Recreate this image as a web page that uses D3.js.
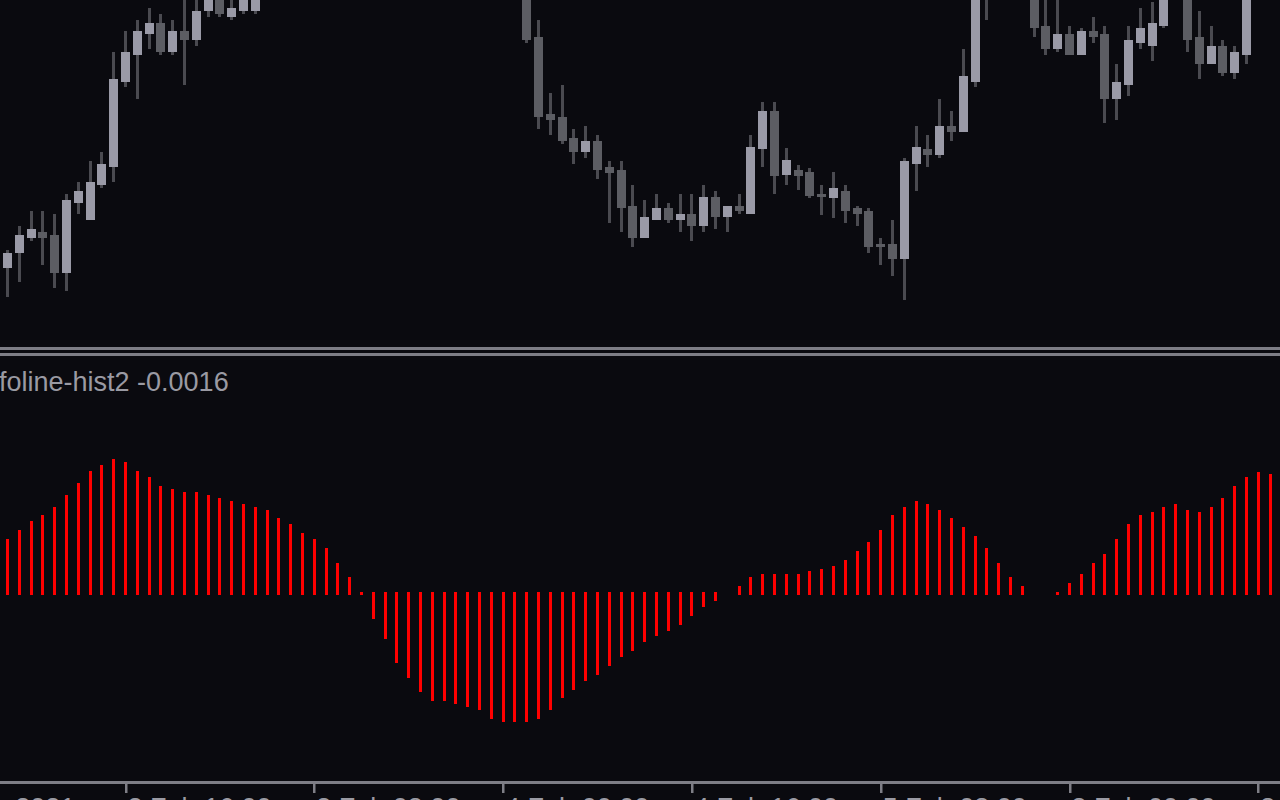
<!DOCTYPE html>
<html>
<head>
<meta charset="utf-8">
<script src="https://cdn.jsdelivr.net/npm/d3@7"></script>
<style>
  html, body { margin: 0; padding: 0; background: #0a0a0f; overflow: hidden; }
  svg { display: block; }
</style>
</head>
<body>
<svg id="chart" width="1280" height="800"></svg>
<script>
// ---------------- DATA ----------------
const openPrices = [
  1.21232, 1.21247, 1.21262, 1.21268, 1.21265, 1.21227, 1.21297, 1.21280, 1.21315, 1.21333,
  1.21418, 1.21445, 1.21466, 1.21477, 1.21448, 1.21469, 1.21460, 1.21489, 1.21506, 1.21483,
  1.21489, 1.21489, 1.21506, 1.21525, 1.21540, 1.21562, 1.21555, 1.21582, 1.21578, 1.21566,
  1.21552, 1.21540, 1.21530, 1.21518, 1.21535, 1.21525, 1.21515, 1.21522, 1.21518, 1.21512,
  1.21520, 1.21514, 1.21510, 1.21518, 1.21520, 1.21463, 1.21386, 1.21383, 1.21362, 1.21348,
  1.21359, 1.21333, 1.21330, 1.21294, 1.21262, 1.21280, 1.21292, 1.21280, 1.21286, 1.21274,
  1.21303, 1.21283, 1.21294, 1.21286, 1.21351, 1.21389, 1.21325, 1.21330, 1.21328, 1.21306,
  1.21302, 1.21309, 1.21292, 1.21289, 1.21256, 1.21256, 1.21241, 1.21336, 1.21351, 1.21345,
  1.21374, 1.21368, 1.21418, 1.21530, 1.21550, 1.21570, 1.21555, 1.21520, 1.21474, 1.21451,
  1.21466, 1.21445, 1.21469, 1.21466, 1.21401, 1.21415, 1.21457, 1.21454, 1.21474, 1.21510,
  1.21515, 1.21463, 1.21436, 1.21454, 1.21427, 1.21445, 1.21520, 1.21540
];
const highPrices = [
  1.21250, 1.21274, 1.21289, 1.21289, 1.21286, 1.21306, 1.21318, 1.21339, 1.21348, 1.21448,
  1.21469, 1.21480, 1.21492, 1.21486, 1.21480, 1.21508, 1.21506, 1.21512, 1.21514, 1.21504,
  1.21510, 1.21514, 1.21530, 1.21548, 1.21570, 1.21575, 1.21590, 1.21600, 1.21595, 1.21580,
  1.21570, 1.21560, 1.21545, 1.21540, 1.21545, 1.21538, 1.21530, 1.21535, 1.21532, 1.21528,
  1.21536, 1.21530, 1.21526, 1.21532, 1.21530, 1.21480, 1.21407, 1.21415, 1.21371, 1.21374,
  1.21365, 1.21339, 1.21339, 1.21315, 1.21300, 1.21306, 1.21297, 1.21306, 1.21306, 1.21315,
  1.21309, 1.21294, 1.21306, 1.21365, 1.21398, 1.21398, 1.21352, 1.21335, 1.21332, 1.21315,
  1.21328, 1.21315, 1.21294, 1.21292, 1.21262, 1.21280, 1.21342, 1.21374, 1.21365, 1.21401,
  1.21389, 1.21451, 1.21530, 1.21560, 1.21580, 1.21590, 1.21575, 1.21540, 1.21505, 1.21505,
  1.21474, 1.21472, 1.21483, 1.21474, 1.21436, 1.21474, 1.21492, 1.21498, 1.21520, 1.21540,
  1.21530, 1.21489, 1.21474, 1.21460, 1.21454, 1.21530, 1.21550, 1.21560
];
const lowPrices = [
  1.21203, 1.21218, 1.21259, 1.21235, 1.21212, 1.21209, 1.21286, 1.21280, 1.21312, 1.21318,
  1.21413, 1.21401, 1.21451, 1.21445, 1.21445, 1.21415, 1.21454, 1.21483, 1.21483, 1.21480,
  1.21486, 1.21486, 1.21502, 1.21518, 1.21535, 1.21550, 1.21550, 1.21570, 1.21560, 1.21545,
  1.21530, 1.21522, 1.21510, 1.21512, 1.21520, 1.21508, 1.21505, 1.21512, 1.21506, 1.21504,
  1.21510, 1.21506, 1.21504, 1.21508, 1.21457, 1.21371, 1.21365, 1.21356, 1.21336, 1.21342,
  1.21321, 1.21277, 1.21268, 1.21253, 1.21262, 1.21280, 1.21277, 1.21268, 1.21259, 1.21268,
  1.21271, 1.21268, 1.21286, 1.21286, 1.21333, 1.21306, 1.21315, 1.21310, 1.21302, 1.21285,
  1.21282, 1.21277, 1.21274, 1.21247, 1.21235, 1.21224, 1.21200, 1.21309, 1.21333, 1.21342,
  1.21359, 1.21368, 1.21413, 1.21480, 1.21530, 1.21545, 1.21510, 1.21463, 1.21445, 1.21448,
  1.21445, 1.21445, 1.21457, 1.21377, 1.21380, 1.21404, 1.21451, 1.21439, 1.21472, 1.21505,
  1.21448, 1.21421, 1.21436, 1.21424, 1.21421, 1.21436, 1.21512, 1.21525
];
const closePrices = [
  1.21247, 1.21265, 1.21271, 1.21262, 1.21227, 1.21300, 1.21309, 1.21318, 1.21336, 1.21421,
  1.21448, 1.21469, 1.21477, 1.21448, 1.21469, 1.21460, 1.21489, 1.21504, 1.21486, 1.21492,
  1.21504, 1.21506, 1.21525, 1.21540, 1.21562, 1.21555, 1.21582, 1.21578, 1.21566, 1.21552,
  1.21540, 1.21530, 1.21518, 1.21535, 1.21525, 1.21515, 1.21522, 1.21518, 1.21512, 1.21520,
  1.21514, 1.21510, 1.21518, 1.21520, 1.21460, 1.21383, 1.21380, 1.21359, 1.21348, 1.21359,
  1.21330, 1.21327, 1.21292, 1.21262, 1.21283, 1.21292, 1.21280, 1.21286, 1.21274, 1.21303,
  1.21283, 1.21294, 1.21289, 1.21353, 1.21389, 1.21324, 1.21340, 1.21324, 1.21304, 1.21303,
  1.21312, 1.21289, 1.21286, 1.21253, 1.21253, 1.21241, 1.21339, 1.21353, 1.21345, 1.21374,
  1.21368, 1.21424, 1.21520, 1.21550, 1.21570, 1.21555, 1.21525, 1.21472, 1.21451, 1.21466,
  1.21445, 1.21469, 1.21463, 1.21401, 1.21418, 1.21460, 1.21472, 1.21477, 1.21510, 1.21525,
  1.21460, 1.21436, 1.21454, 1.21427, 1.21448, 1.21520, 1.21540, 1.21545
];
const histValues = [
  0.000545, 0.000635, 0.000725, 0.000785, 0.000865, 0.000985, 0.001105, 0.001225, 0.001285, 0.001345,
  0.001315, 0.001225, 0.001165, 0.001075, 0.001045, 0.001015, 0.001015, 0.000985, 0.000955, 0.000925,
  0.000895, 0.000865, 0.000835, 0.000755, 0.000695, 0.000605, 0.000545, 0.000455, 0.000305, 0.000165,
  0.000015, -0.000255, -0.000455, -0.000695, -0.000845, -0.000985, -0.001075, -0.001075, -0.001105, -0.001135,
  -0.001165, -0.001255, -0.001285, -0.001285, -0.001285, -0.001255, -0.001165, -0.001045, -0.000965, -0.000875,
  -0.000815, -0.000725, -0.000635, -0.000575, -0.000485, -0.000425, -0.000375, -0.000315, -0.000225, -0.000135,
  -0.000075, 0, 0.000075, 0.000165, 0.000195, 0.000195, 0.000195, 0.000195, 0.000225, 0.000245,
  0.000275, 0.000335, 0.000425, 0.000515, 0.000635, 0.000785, 0.000865, 0.000925, 0.000895, 0.000835,
  0.000755, 0.000665, 0.000575, 0.000455, 0.000305, 0.000165, 0.000075, 0, 0, 0.000015,
  0.000105, 0.000195, 0.000305, 0.000395, 0.000545, 0.000695, 0.000785, 0.000815, 0.000865, 0.000895,
  0.000835, 0.000815, 0.000865, 0.000955, 0.001075, 0.001165, 0.001215, 0.001195
];
const tickBarIndex = [-6, 10, 26, 42, 58, 74, 90, 106];
const tickLabels = ["2 Feb 2021", "2 Feb 16:00", "3 Feb 08:00", "4 Feb 00:00", "4 Feb 16:00", "5 Feb 08:00", "8 Feb 00:00", "8 Feb 16:00"];
const indicatorName = "foline-hist2";
const indicatorValue = "-0.0016";

// ---------------- DRAW ----------------
const W = 1280, H = 800;
const svg = d3.select("#chart");
const BG = "#0a0a0f", GRID = "#7e7e86", TXT = "#9a9aa3";
const BULL = "#9a9aa7", BEAR = "#5c5d63", WICK = "#4a4a50", HIST = "#ff0000";

svg.append("rect").attr("width", W).attr("height", H).attr("fill", BG);

const n = openPrices.length;
const x = d3.scaleLinear().domain([0, n - 1]).range([7.5, 7.5 + 11.8 * (n - 1)]);

// main pane
const mainTop = 0, mainBottom = 346;
const yPrice = d3.scaleLinear().domain([1.21154, 1.21500]).range([mainBottom, mainTop]);
svg.append("clipPath").attr("id", "mainClip")
  .append("rect").attr("x", 0).attr("y", 0).attr("width", W).attr("height", 345);

const candles = d3.range(n).map(i => ({
  i, o: openPrices[i], h: highPrices[i], l: lowPrices[i], c: closePrices[i]
}));

const gMain = svg.append("g").attr("clip-path", "url(#mainClip)").attr("shape-rendering", "crispEdges");
gMain.selectAll("rect.wick").data(candles).enter().append("rect")
  .attr("class", "wick")
  .attr("x", d => x(d.i) - 1.5)
  .attr("width", 3)
  .attr("y", d => yPrice(d.h))
  .attr("height", d => yPrice(d.l) - yPrice(d.h))
  .attr("fill", WICK);
gMain.selectAll("rect.body").data(candles).enter().append("rect")
  .attr("class", "body")
  .attr("x", d => x(d.i) - 4.5)
  .attr("width", 9)
  .attr("y", d => yPrice(Math.max(d.o, d.c)))
  .attr("height", d => Math.max(2, Math.abs(yPrice(d.o) - yPrice(d.c))))
  .attr("fill", d => d.c > d.o ? BULL : BEAR);

// separators
svg.append("rect").attr("x", 0).attr("y", 347).attr("width", W).attr("height", 3).attr("fill", GRID);
svg.append("rect").attr("x", 0).attr("y", 353).attr("width", W).attr("height", 3).attr("fill", GRID);

// indicator pane
const yHist = d3.scaleLinear().domain([-0.001865, 0.002375]).range([780, 356]);
const gHist = svg.append("g").attr("shape-rendering", "crispEdges");
const histData = histValues.map((v, i) => ({ i, v })).filter(d => d.v !== 0);
gHist.selectAll("rect").data(histData).enter().append("rect")
  .attr("x", d => Math.round(x(d.i) - 1.5))
  .attr("width", 3)
  .attr("y", d => d.v > 0 ? yHist(d.v) : yHist(0) - 1.5)
  .attr("height", d => Math.abs(yHist(d.v) - yHist(0)) + 1.5)
  .attr("fill", HIST);

svg.append("text")
  .attr("x", -1).attr("y", 391)
  .attr("font-family", "'Liberation Sans', Arial, sans-serif")
  .attr("font-size", 27)
  .attr("fill", TXT)
  .text(indicatorName + " " + indicatorValue);

// time axis
svg.append("rect").attr("x", 0).attr("y", 781).attr("width", W).attr("height", 3).attr("fill", GRID);
const gAxis = svg.append("g");
tickBarIndex.forEach((idx, k) => {
  gAxis.append("rect")
    .attr("x", Math.round(x(idx) - 1)).attr("y", 784)
    .attr("width", 2.5).attr("height", 9)
    .attr("fill", GRID);
  gAxis.append("text")
    .attr("x", x(idx) + 2).attr("y", 817)
    .attr("font-family", "'Liberation Sans', Arial, sans-serif")
    .attr("font-size", 27)
    .attr("fill", TXT)
    .text(tickLabels[k]);
});
</script>
</body>
</html>
